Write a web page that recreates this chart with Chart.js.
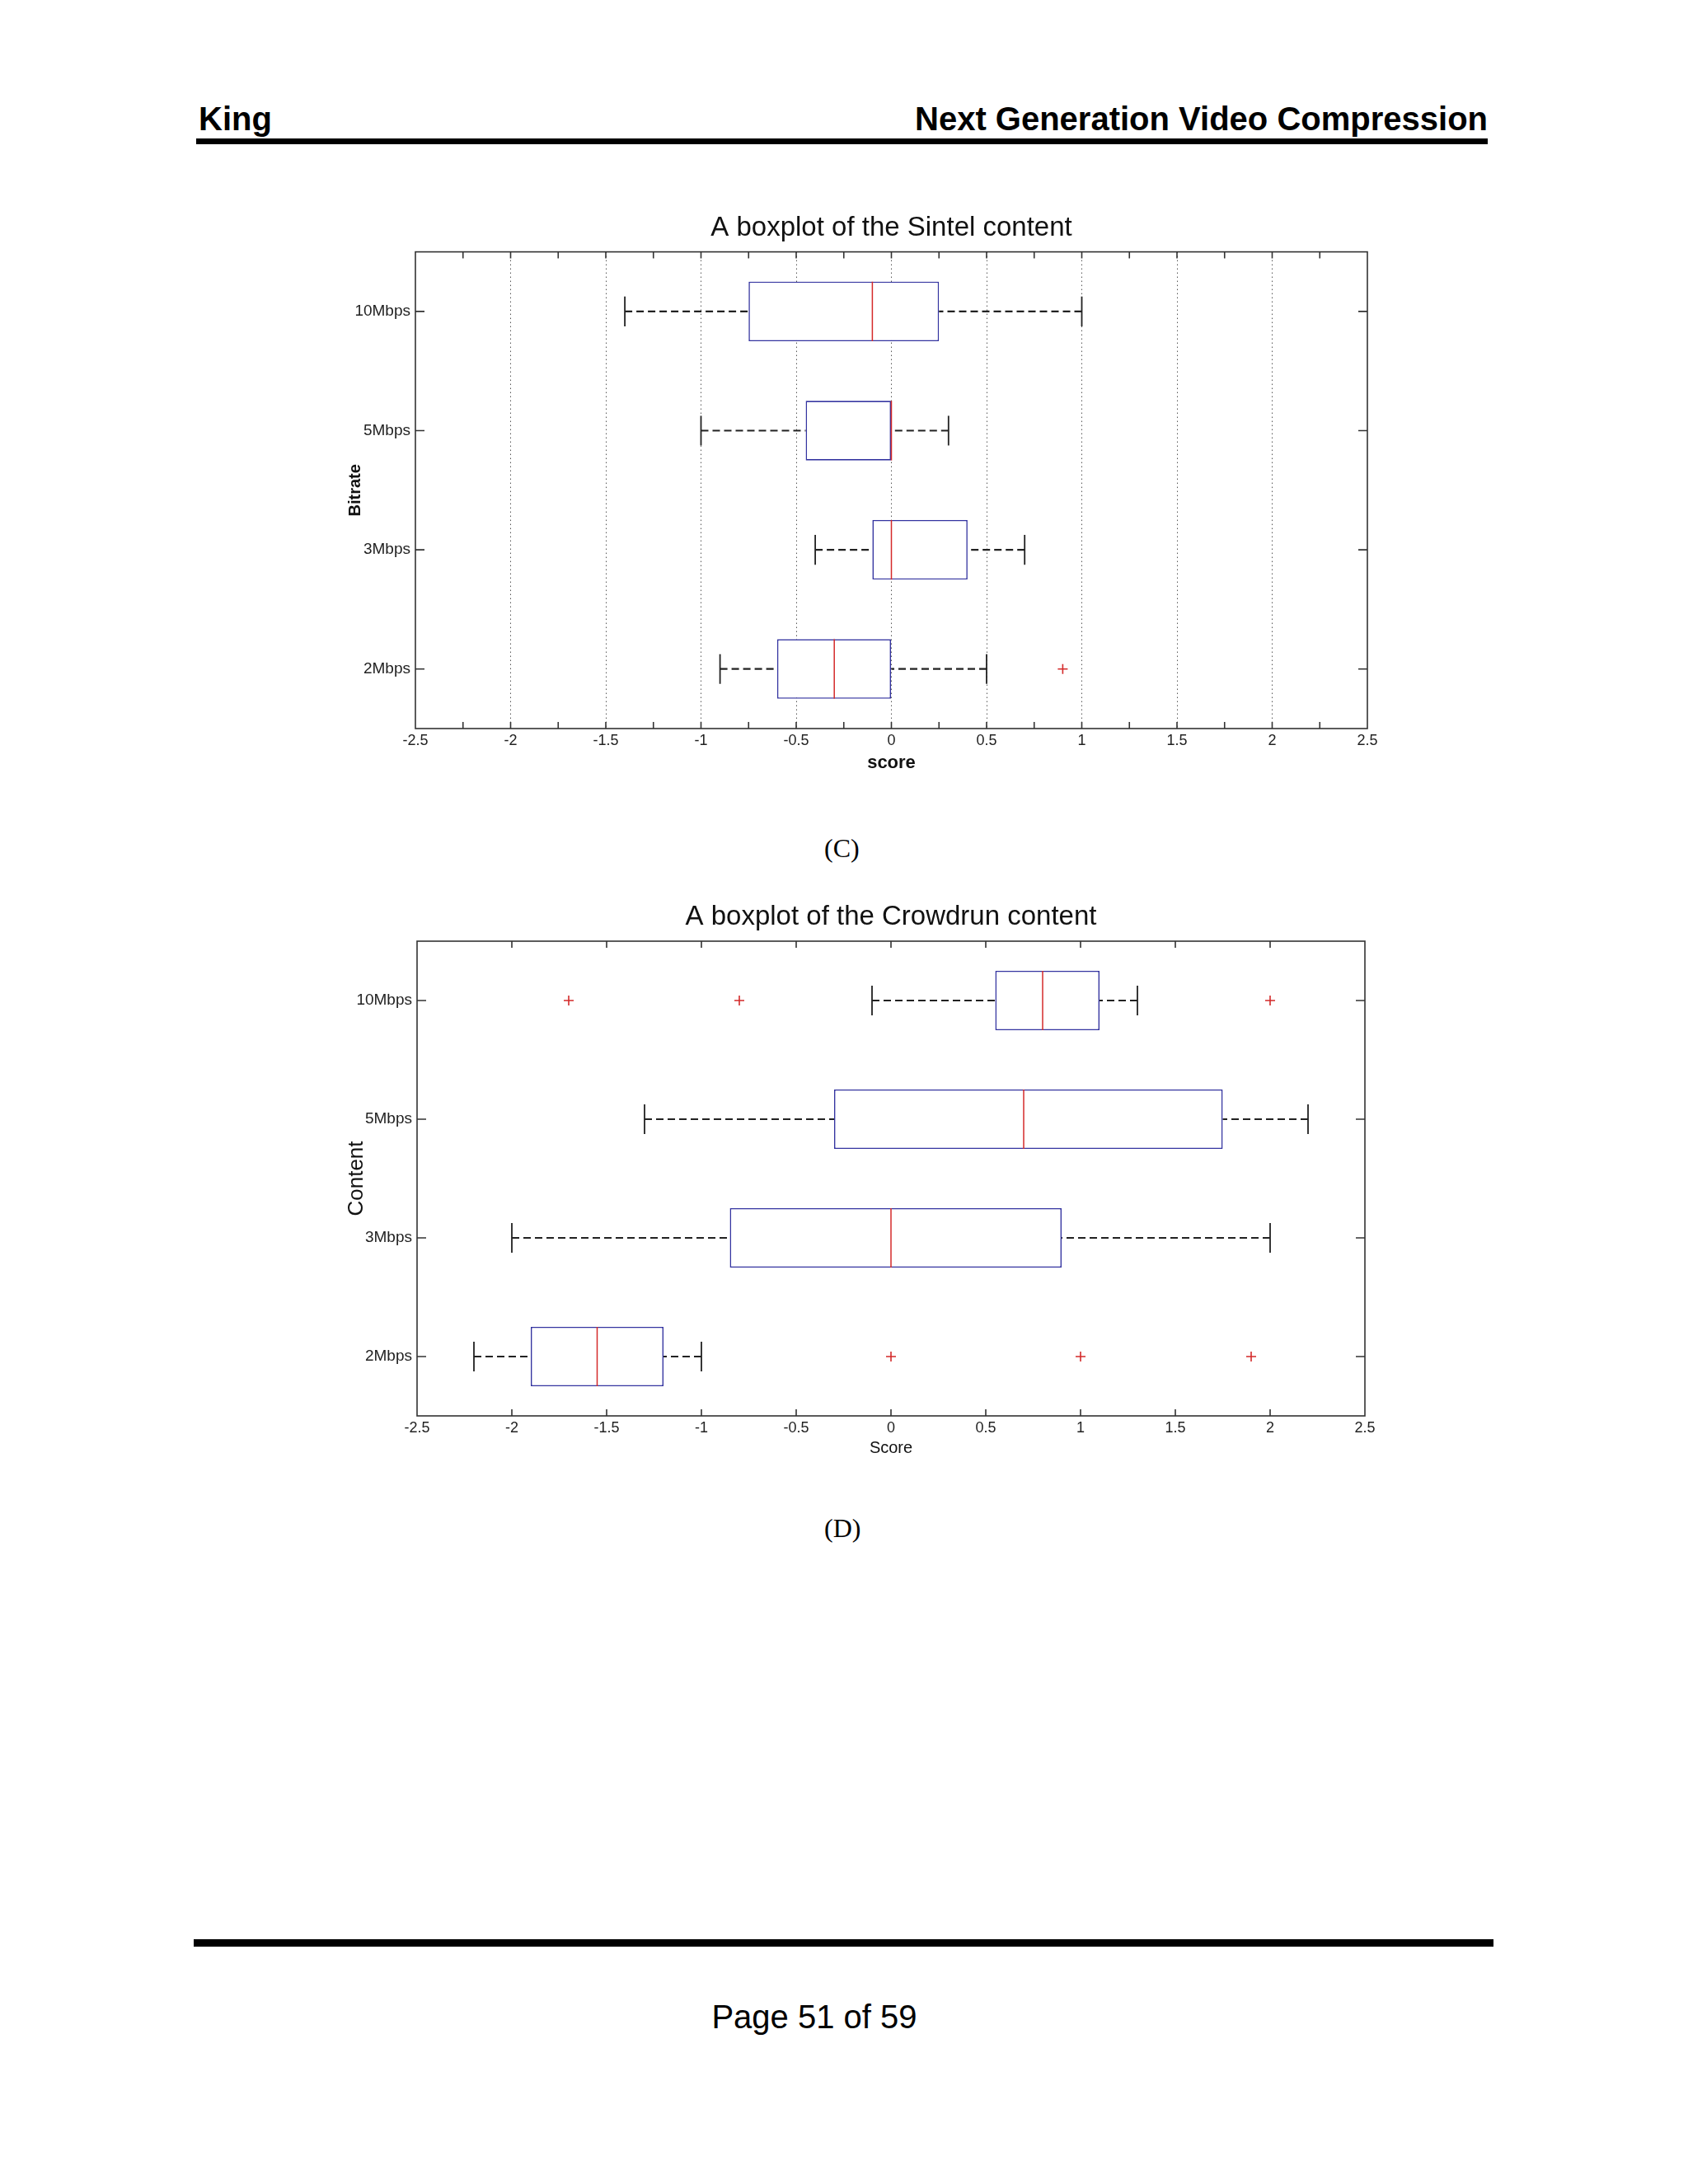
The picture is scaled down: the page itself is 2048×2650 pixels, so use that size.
<!DOCTYPE html>
<html>
<head>
<meta charset="utf-8">
<script src="https://cdn.jsdelivr.net/npm/chart.js@4.4.1/dist/chart.umd.min.js"></script>
<style>
  html, body { margin: 0; padding: 0; background: #fff; overflow: hidden; }
  body { width: 2048px; height: 2650px; position: relative; font-family: 'Liberation Sans', Arial, sans-serif; color: #000; }
  .abs { position: absolute; white-space: nowrap; }
  .hdr { font-size: 40px; font-weight: bold; line-height: 40px; top: 124px; }
  .rule { position: absolute; background: #000; }
  .cap { font-family: 'Liberation Serif', 'Times New Roman', serif; font-size: 32px; line-height: 32px; }
  canvas { position: absolute; }
</style>
</head>
<body>
<div class="abs hdr" style="left:241px">King</div>
<div class="abs hdr" style="right:243px">Next Generation Video Compression</div>
<div class="rule" style="left:238px; top:168px; width:1567px; height:7px"></div>

<canvas id="sintel" width="1270" height="682" style="left:419px; top:257px"></canvas>
<div class="abs cap" style="left:1000px; top:1013px">(C)</div>

<canvas id="crowd" width="1269" height="676" style="left:417px; top:1093px"></canvas>
<div class="abs cap" style="left:1000px; top:1838px">(D)</div>

<div class="rule" style="left:235px; top:2353px; width:1577px; height:9px"></div>
<div class="abs" style="left:0; width:1976px; text-align:center; top:2427px; font-size:40px; line-height:40px">Page 51 of 59</div>

<script>
// categories (top to bottom)
const bitrates = ['10Mbps', '5Mbps', '3Mbps', '2Mbps']
const xTickLabels = ['-2.5', '-2', '-1.5', '-1', '-0.5', '0', '0.5', '1', '1.5', '2', '2.5']

// Sintel
const sintelLow = [-1.4, -1.0, -0.4, -0.9]
const sintelQ1 = [-0.75, -0.45, -0.1, -0.6]
const sintelMed = [-0.1, 0, 0, -0.3]
const sintelQ3 = [0.25, 0, 0.4, 0]
const sintelHigh = [1.0, 0.3, 0.7, 0.5]
const sintelOutliers = [{y: '2Mbps', x: 0.9}]

// Crowdrun
const crowdLow = [-0.1, -1.3, -2.0, -2.2]
const crowdQ1 = [0.55, -0.3, -0.85, -1.9]
const crowdMed = [0.8, 0.7, 0, -1.55]
const crowdQ3 = [1.1, 1.75, 0.9, -1.2]
const crowdHigh = [1.3, 2.2, 2.0, -1.0]
const crowdOutliers = [
  {y: '10Mbps', x: -1.7}, {y: '10Mbps', x: -0.8}, {y: '10Mbps', x: 2.0},
  {y: '2Mbps', x: 0}, {y: '2Mbps', x: 1.0}, {y: '2Mbps', x: 1.9}
]

Chart.defaults.font.family = "'Liberation Sans', Arial, sans-serif"
Chart.defaults.color = '#222'

const BLUE = '#3434a0'
const RED = '#d42a2a'
const INK = '#222'

const isHalf = v => Math.abs(v * 2 - Math.round(v * 2)) < 1e-6
const tickText = v => {
  if (!isHalf(v)) return ''
  return xTickLabels[Math.round((v + 2.5) * 2)]
}

// whiskers, medians, frame and inward ticks, placed through the chart scales
const boxParts = {
  id: 'boxParts',
  beforeDatasetsDraw(chart) {
    const ctx = chart.ctx
    const ds = chart.data.datasets[0]
    const xs = chart.scales.x
    chart.getDatasetMeta(0).data.forEach((bar, i) => {
      const y = bar.y, h = bar.height
      const xl = xs.getPixelForValue(ds.low[i])
      const x1 = xs.getPixelForValue(ds.q1[i])
      const x3 = xs.getPixelForValue(ds.q3[i])
      const xh = xs.getPixelForValue(ds.high[i])
      ctx.save()
      ctx.strokeStyle = INK
      ctx.lineWidth = 2.2
      ctx.setLineDash([9, 5])
      ctx.beginPath()
      ctx.moveTo(xl, y); ctx.lineTo(x1, y)
      ctx.moveTo(xh, y); ctx.lineTo(x3, y)
      ctx.stroke()
      ctx.setLineDash([])
      ctx.lineWidth = 1.8
      ctx.beginPath()
      ctx.moveTo(xl, y - h / 4); ctx.lineTo(xl, y + h / 4)
      ctx.moveTo(xh, y - h / 4); ctx.lineTo(xh, y + h / 4)
      ctx.stroke()
      ctx.restore()
    })
  },
  afterDatasetsDraw(chart) {
    const ctx = chart.ctx
    const ds = chart.data.datasets[0]
    const xs = chart.scales.x, ys = chart.scales.y
    const a = chart.chartArea
    ctx.save()
    ctx.strokeStyle = RED
    ctx.lineWidth = 1.5
    chart.getDatasetMeta(0).data.forEach((bar, i) => {
      const xm = xs.getPixelForValue(ds.med[i])
      ctx.beginPath()
      ctx.moveTo(xm, bar.y - bar.height / 2)
      ctx.lineTo(xm, bar.y + bar.height / 2)
      ctx.stroke()
    })
    ctx.strokeStyle = '#333'
    ctx.lineWidth = 1.6
    ctx.strokeRect(a.left, a.top, a.right - a.left, a.bottom - a.top)
    ctx.beginPath()
    xs.ticks.forEach(t => {
      const px = xs.getPixelForValue(t.value)
      if (px <= a.left + 1 || px >= a.right - 1) return
      ctx.moveTo(px, a.bottom); ctx.lineTo(px, a.bottom - 8)
      ctx.moveTo(px, a.top); ctx.lineTo(px, a.top + 8)
    })
    ys.ticks.forEach((t, i) => {
      const py = ys.getPixelForTick(i)
      ctx.moveTo(a.left, py); ctx.lineTo(a.left + 11, py)
      ctx.moveTo(a.right, py); ctx.lineTo(a.right - 11, py)
    })
    ctx.stroke()
    ctx.restore()
  }
}

function boxChart(el, cfg) {
  return new Chart(el, {
    type: 'bar',
    data: {
      labels: bitrates,
      datasets: [{
        indexAxis: 'y',
        data: cfg.q1.map((v, i) => [v, cfg.q3[i]]),
        low: cfg.low, q1: cfg.q1, med: cfg.med, q3: cfg.q3, high: cfg.high,
        backgroundColor: '#ffffff',
        borderColor: BLUE,
        borderWidth: 1.6,
        borderSkipped: false,
        barPercentage: 0.5,
        categoryPercentage: 1.0
      }, {
        type: 'scatter',
        data: cfg.outliers,
        pointStyle: 'cross',
        pointRadius: 6,
        borderColor: RED,
        borderWidth: 1.6
      }]
    },
    options: {
      responsive: false,
      animation: false,
      events: [],
      layout: { padding: { left: 0, right: 30, top: 0, bottom: 0 } },
      plugins: {
        legend: { display: false },
        tooltip: { enabled: false },
        title: {
          display: true,
          text: cfg.title,
          font: { size: 33, weight: 'normal' },
          color: '#111',
          padding: { top: 0, bottom: cfg.titleGap },
          fullSize: false
        }
      },
      scales: {
        x: {
          type: 'linear',
          min: -2.5,
          max: 2.5,
          offset: false,
          ticks: {
            stepSize: cfg.step,
            autoSkip: false,
            maxRotation: 0,
            padding: 4,
            font: { size: 18 },
            callback: v => tickText(v)
          },
          grid: {
            offset: false,
            drawTicks: false,
            lineWidth: 1,
            color: c => {
              const t = c.tick
              if (!cfg.grid || !t) return 'rgba(0,0,0,0)'
              return (isHalf(t.value) && Math.abs(t.value) < 2.4) ? '#555' : 'rgba(0,0,0,0)'
            }
          },
          border: { display: false, dash: [1.5, 3.5] },
          title: { display: true, text: cfg.xTitle, font: cfg.xTitleFont, padding: 0, color: '#111' },
          afterFit: s => { s.height = cfg.xh; s.paddingLeft = 0; s.paddingRight = 0 }
        },
        y: {
          type: 'category',
          offset: true,
          grid: { display: false, drawTicks: false },
          border: { display: false },
          ticks: { padding: 6, font: { size: 19 } },
          title: { display: true, text: cfg.yTitle, font: cfg.yTitleFont, padding: 0, color: '#111' },
          afterFit: s => { s.width = cfg.yw; s.paddingTop = 0; s.paddingBottom = 0 }
        }
      }
    },
    plugins: [boxParts]
  })
}

boxChart(document.querySelector('#sintel'), {
  title: 'A boxplot of the Sintel content',
  low: sintelLow, q1: sintelQ1, med: sintelMed, q3: sintelQ3, high: sintelHigh,
  outliers: sintelOutliers,
  step: 0.25, grid: true,
  xTitle: 'score', xTitleFont: { size: 22, weight: 'bold' },
  yTitle: 'Bitrate', yTitleFont: { size: 20, weight: 'bold' },
  titleGap: 9, xh: 55, yw: 85
})

boxChart(document.querySelector('#crowd'), {
  title: 'A boxplot of the Crowdrun content',
  low: crowdLow, q1: crowdQ1, med: crowdMed, q3: crowdQ3, high: crowdHigh,
  outliers: crowdOutliers,
  step: 0.5, grid: false,
  xTitle: 'Score', xTitleFont: { size: 20, weight: 'normal' },
  yTitle: 'Content', yTitleFont: { size: 26, weight: 'normal' },
  titleGap: 9.4, xh: 51, yw: 89
})
</script>
</body>
</html>
